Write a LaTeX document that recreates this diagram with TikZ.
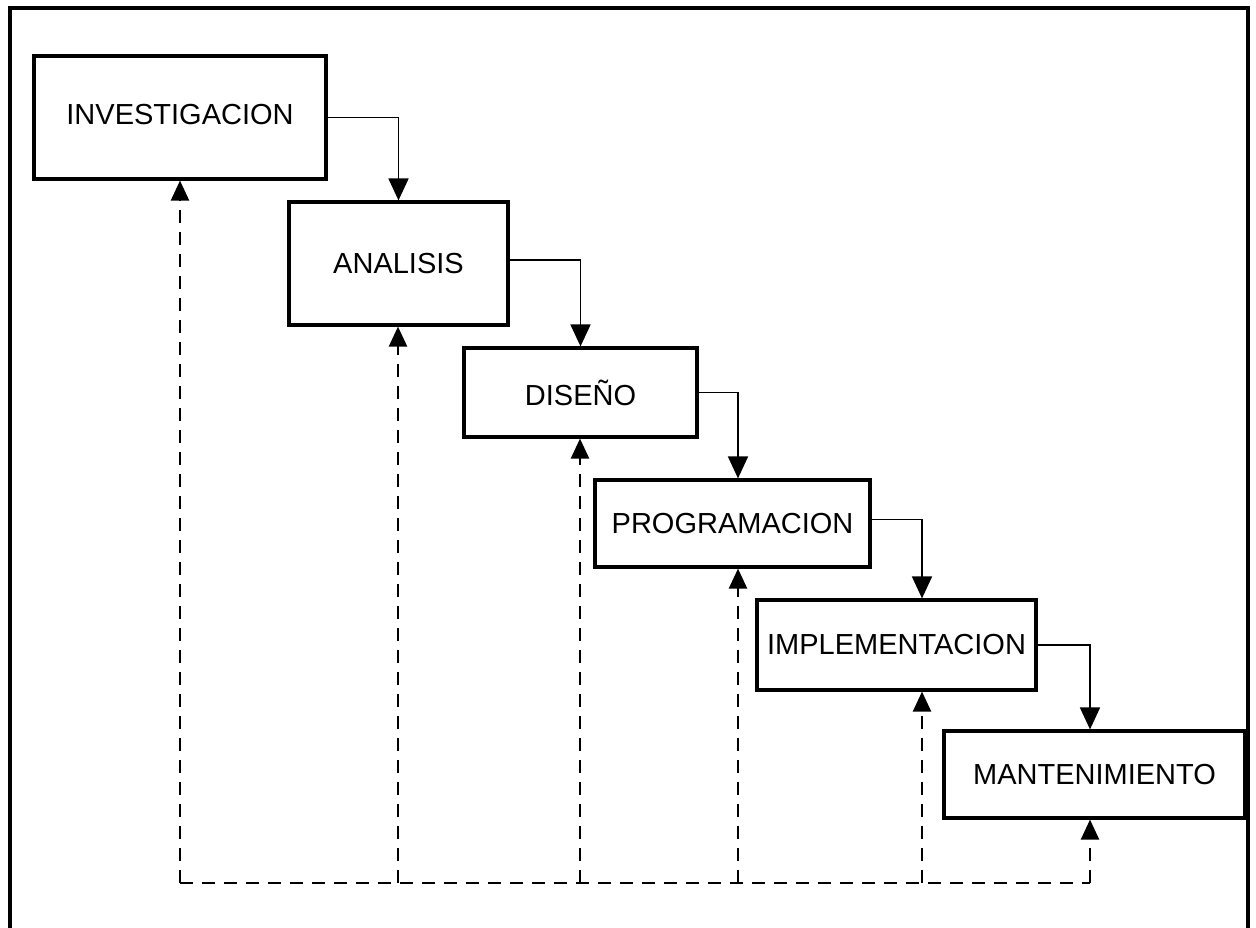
\documentclass[tikz,border=0pt]{standalone}
\usepackage{fontspec}
\setmainfont{Liberation Sans}
\usetikzlibrary{arrows.meta,positioning,calc}

\begin{document}
\begin{tikzpicture}[x=0.2mm,y=-0.2mm,
  every node/.style={font=\fontsize{16.5}{20}\selectfont,align=center},
  phase/.style={draw,line width=1.8pt,inner sep=0pt},
  flow/.style={-{Triangle[width=4mm,length=4.4mm]},line width=1pt},
  back/.style={-{Triangle[width=3.6mm,length=4mm]},line width=1.3pt,dash pattern=on 2.6mm off 1.8mm}]
\useasboundingbox (0,0) rectangle (1256,928);
\draw[line width=2pt] (10,928) -- (10,8) -- (1248,8) -- (1248,928);
\node[phase,minimum width=58.4mm,minimum height=24.6mm] (inv) at (180,117.5) {\raisebox{1.2mm}{INVESTIGACION}};
\node[phase,minimum width=43.8mm,minimum height=24.6mm] (ana) at (398.5,263.5) {ANALISIS};
\node[phase,minimum width=46.6mm,minimum height=17.8mm] (dis) at (580.5,392.5) {DISEÑO};
\node[phase,minimum width=55mm,minimum height=17.4mm] (prog) at (732.5,523.5) {PROGRAMACION};
\node[phase,minimum width=55.8mm,minimum height=18mm] (impl) at (896.5,645) {IMPLEMENTACION};
\node[phase,minimum width=60.2mm,minimum height=17.4mm] (mant) at (1094.5,774.5) {MANTENIMIENTO};
% flujo
\draw[flow] (inv.east) -| (ana.north);
\draw[flow] ([yshift=0.7mm]ana.east) -| (dis.north);
\draw[flow] (dis.east) -| ([xshift=1.1mm]prog.north);
\draw[flow] ([yshift=0.8mm]prog.east) -| ([xshift=5.1mm]impl.north);
\draw[flow] (impl.east) -| ([xshift=-0.9mm]mant.north);
% retorno
\coordinate (b1) at (180,883);
\coordinate (b2) at (398,883);
\coordinate (b3) at (580,883);
\coordinate (b4) at (738,883);
\coordinate (b5) at (922,883);
\coordinate (b6) at (1090,883);
\draw[line width=1.3pt,dash pattern=on 2.6mm off 1.8mm] (b1) -- (b6);
\foreach \b/\n in {b1/inv,b2/ana,b3/dis,b4/prog,b5/impl,b6/mant}
  \draw[back] (\b) -- (\b |- \n.south);
\end{tikzpicture}
\end{document}
